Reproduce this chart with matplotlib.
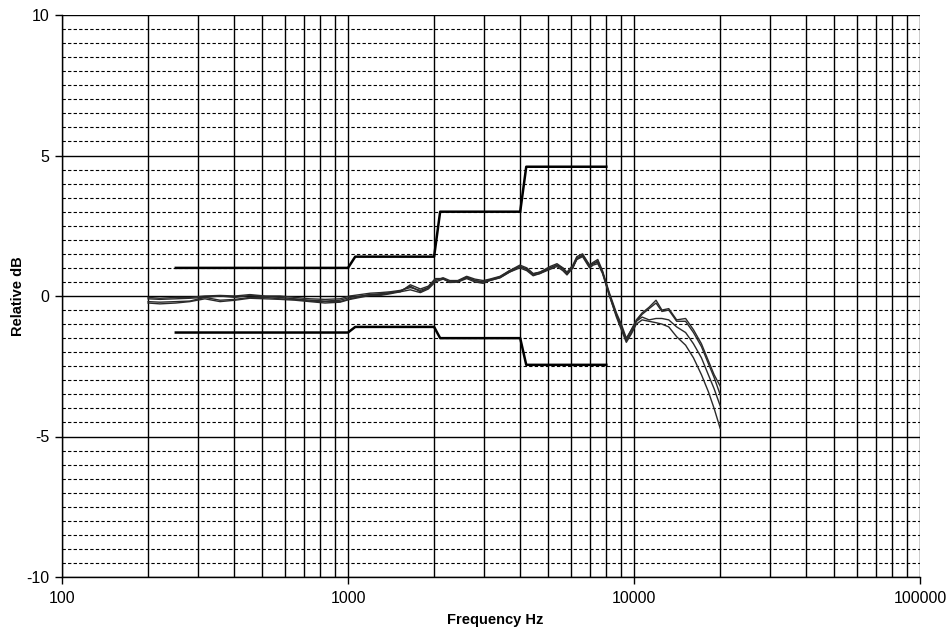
import matplotlib
matplotlib.use("Agg")
import matplotlib.pyplot as plt
import numpy as np
from matplotlib.ticker import FixedLocator, NullFormatter, FixedFormatter

plt.rcParams['font.family'] = ['Liberation Sans', 'DejaVu Sans']
plt.rcParams['axes.unicode_minus'] = False

# Tolerance limits
tol_freq = [250, 1000, 1060, 2000, 2100, 4000, 4200, 8000]
tol_upper = [1.0, 1.0, 1.4, 1.4, 3.0, 3.0, 4.6, 4.6]
tol_lower = [-1.3, -1.3, -1.1, -1.1, -1.5, -1.5, -2.45, -2.45]

# Measured responses
freq = [200, 220, 250, 280, 316, 357, 403, 454, 513, 578, 653, 736, 831, 938,
        1016, 1102, 1195, 1296, 1405, 1524, 1652, 1791, 1910, 2020, 2150, 2270,
        2420, 2600, 2780, 2970, 3130, 3400, 3670, 3990, 4220, 4440, 4690, 5090,
        5380, 5640, 5830, 6110, 6310, 6610, 6990, 7200, 7470, 7760, 8210, 8680,
        9030, 9400, 9790, 10190, 10680, 11290, 11940, 12520, 13230, 14100, 15150,
        16140, 17210, 18190, 19060, 20000]

resp_a = [-0.05, -0.08, -0.05, -0.05, 0.0, 0.02, 0.0, 0.05, 0.0, 0.0, -0.05, -0.1,
          -0.12, -0.1, 0.0, 0.05, 0.1, 0.12, 0.15, 0.2, 0.3, 0.2, 0.3, 0.55, 0.65,
          0.55, 0.55, 0.7, 0.6, 0.55, 0.6, 0.7, 0.9, 1.1, 1.0, 0.8, 0.85, 1.05,
          1.15, 1.0, 0.85, 1.1, 1.4, 1.5, 1.1, 1.2, 1.3, 0.9, 0.1, -0.6,
          -1.0, -1.5, -1.2, -0.85, -0.6, -0.4, -0.15, -0.5, -0.45, -0.85, -0.8,
          -1.2, -1.7, -2.3, -2.8, -3.2]
resp_b = [-0.1, -0.12, -0.1, -0.08, -0.05, 0.0, -0.05, 0.02, -0.02, -0.05, -0.1, -0.15,
          -0.18, -0.15, -0.05, 0.0, 0.05, 0.08, 0.12, 0.15, 0.22, 0.12, 0.25, 0.5, 0.6,
          0.5, 0.5, 0.65, 0.55, 0.5, 0.55, 0.65, 0.85, 1.05, 0.95, 0.75, 0.8, 1.0,
          1.1, 0.95, 0.8, 1.05, 1.3, 1.45, 1.05, 1.15, 1.25, 0.85, 0.05, -0.65,
          -1.1, -1.6, -1.3, -0.9, -0.65, -0.45, -0.25, -0.55, -0.5, -0.9, -0.9,
          -1.3, -1.8, -2.4, -2.9, -3.5]
resp_c = [-0.2, -0.22, -0.2, -0.18, -0.05, -0.15, -0.12, -0.05, -0.05, -0.1, -0.12, -0.18,
          -0.2, -0.2, -0.1, -0.02, 0.05, 0.05, 0.1, 0.18, 0.35, 0.15, 0.3, 0.6, 0.62,
          0.5, 0.52, 0.68, 0.55, 0.5, 0.58, 0.68, 0.9, 1.05, 0.95, 0.78, 0.85, 1.0,
          1.1, 1.0, 0.8, 1.0, 1.35, 1.45, 1.1, 1.15, 1.2, 0.85, 0.0, -0.7,
          -1.1, -1.55, -1.2, -0.9, -0.75, -0.85, -0.8, -0.8, -0.85, -1.1, -1.3,
          -1.7, -2.2, -2.8, -3.3, -3.9]
resp_d = [-0.25, -0.28, -0.25, -0.2, -0.1, -0.2, -0.15, -0.08, -0.1, -0.12, -0.15, -0.2,
          -0.25, -0.22, -0.12, -0.05, 0.02, 0.02, 0.08, 0.15, 0.4, 0.25, 0.35, 0.62, 0.62,
          0.48, 0.5, 0.62, 0.5, 0.45, 0.55, 0.65, 0.85, 1.0, 0.9, 0.72, 0.8, 0.95,
          1.05, 0.9, 0.75, 1.0, 1.3, 1.4, 1.0, 1.1, 1.15, 0.8, 0.0, -0.75,
          -1.2, -1.65, -1.35, -1.0, -0.85, -0.9, -0.95, -1.0, -1.1, -1.45, -1.75,
          -2.2, -2.8, -3.4, -4.0, -4.7]

x_major = [100, 1000, 10000, 100000]
x_labels = ['100', '1000', '10000', '100000']
y_major = [-10, -5, 0, 5, 10]

W, H = 948, 629
fig = plt.figure(figsize=(W / 100, H / 100), dpi=100)
ax = fig.add_axes([62 / W, 1 - 577 / H, (920 - 62) / W, (577 - 15) / H])
ax.set_xscale('log')
ax.set_xlim(100, 100000)
ax.set_ylim(-10, 10)

# grid
minor_x = [m * d for d in [100, 1000, 10000] for m in range(2, 10)]
for xv in minor_x + x_major:
    ax.axvline(xv, color='black', lw=1.0, zorder=1)
for yv in np.arange(-10, 10.01, 0.5):
    if abs(yv % 5) < 1e-9:
        ax.axhline(yv, color='black', lw=1.0, zorder=1)
    else:
        ax.axhline(yv, color='black', lw=0.8, ls=(0, (3, 2)), zorder=1)

for r in [resp_a, resp_b, resp_c, resp_d]:
    ax.plot(freq, r, color='#2a2a2a', lw=1.0, zorder=3)

ax.plot(tol_freq, tol_upper, color='black', lw=1.8, zorder=4)
ax.plot(tol_freq, tol_lower, color='black', lw=1.8, zorder=4)

ax.xaxis.set_major_locator(FixedLocator(x_major))
ax.xaxis.set_major_formatter(FixedFormatter(x_labels))
ax.xaxis.set_minor_locator(FixedLocator([]))
ax.xaxis.set_minor_formatter(NullFormatter())
ax.yaxis.set_major_locator(FixedLocator(y_major))
ax.tick_params(axis='both', which='major', direction='out', length=5, width=1,
               labelsize=11.5, pad=4)
ax.tick_params(axis='x', pad=5)
for s in ['top', 'right']:
    ax.spines[s].set_visible(False)
for s in ['left', 'bottom']:
    ax.spines[s].set_linewidth(1.0)

fig.text(495 / W, 1 - 620 / H, 'Frequency Hz', fontsize=10.5, fontweight='bold',
         ha='center', va='center')
fig.text(18 / W, 1 - 296 / H, 'Relative dB', fontsize=10.5, fontweight='bold',
         ha='center', va='center', rotation=90)

fig.savefig('out.png', dpi=100)
